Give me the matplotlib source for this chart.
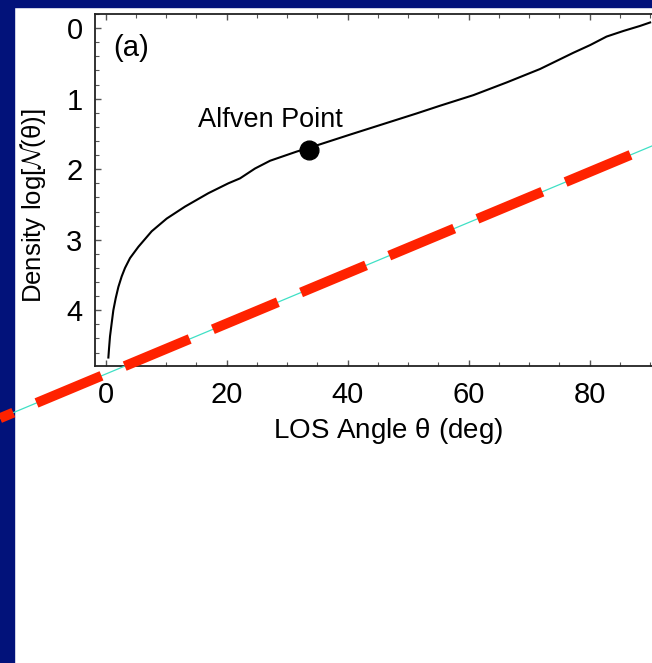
import numpy as np
import matplotlib
matplotlib.use('Agg')
from matplotlib import pyplot as plt
from matplotlib.patches import Rectangle
from matplotlib.ticker import MultipleLocator

plt.rcParams['font.family'] = ['Liberation Sans', 'DejaVu Sans']
plt.rcParams['mathtext.fontset'] = 'cm'
plt.rcParams['lines.scale_dashes'] = False

# density curve
theta = [0.47, 0.58, 0.74, 1.02, 1.29, 1.68, 2.12, 2.67, 3.22, 4.05, 5.43, 7.63,
         10.11, 13.14, 17.0, 20.3, 22.23, 24.71, 27.2, 31.6, 35.0, 40.4, 45.9,
         51.4, 55.29, 60.8, 66.3, 71.8, 77.3, 80.1, 82.8, 85.6, 88.3, 90.0]
dens = [4.67, 4.54, 4.37, 4.18, 4.00, 3.83, 3.67, 3.52, 3.40, 3.26, 3.10, 2.88,
        2.70, 2.53, 2.34, 2.20, 2.13, 1.99, 1.88, 1.75, 1.66, 1.51, 1.36,
        1.21, 1.10, 0.95, 0.77, 0.58, 0.35, 0.24, 0.12, 0.04, -0.03, -0.08]

# Alfven point
alf_theta = [33.6]
alf_dens = [1.73]

# straight reference line (runs outside the frame)
ref_theta = [-17.44, 92.0]
ref_dens = [5.53, 1.61]

xticks = [0, 20, 40, 60, 80]
yticks = [0, 1, 2, 3, 4]

fig = plt.figure(figsize=(6.52, 6.63), dpi=100)
fig.patch.set_facecolor('white')

# navy slide frame
navy = '#02127a'
fig.patches.append(Rectangle((0, 0), 14/652., 1, transform=fig.transFigure,
                             color=navy, zorder=-1))
fig.patches.append(Rectangle((0, 1 - 7/663.), 1, 7/663., transform=fig.transFigure,
                             color=navy, zorder=-1))

ax = fig.add_axes([95/652., 297/663., 563/652., 352/663.])
ax.set_facecolor('none')

ax.plot(theta, dens, color='black', lw=1.5)
ax.plot(alf_theta, alf_dens, 'o', color='black', ms=13.5)
ax.text(15.3, 1.40, 'Alfven Point', fontsize=19.5, ha='left', va='baseline')
ax.text(1.2, 0.39, '(a)', fontsize=21, ha='left', va='baseline')

ax.plot(ref_theta, ref_dens, color='#3fe0c5', lw=0.9, clip_on=False, zorder=5)
ax.plot(ref_theta, ref_dens, color='#ff2200', lw=7.2,
        linestyle=(40.3, (50.7, 18.1)),
        solid_capstyle='butt', dash_capstyle='butt', clip_on=False, zorder=6)

ax.set_xlim(-1.74, 91.3)
ax.set_ylim(4.79, -0.2)
ax.set_xticks(xticks)
ax.set_yticks(yticks)
ax.xaxis.set_minor_locator(MultipleLocator(5))
ax.yaxis.set_minor_locator(MultipleLocator(0.2))
ax.tick_params(which='both', direction='in', top=True, right=False,
               labelsize=21, color='#555555')
ax.tick_params(which='major', length=4.5, width=1)
ax.tick_params(which='minor', length=3, width=0.8)
ax.tick_params(axis='x', pad=11)
ax.tick_params(axis='y', pad=9)
for s in ax.spines.values():
    s.set_linewidth(1.3)
    s.set_color('#222222')

ax.set_xlabel(r'LOS Angle $\mathregular{\theta}$ (deg)', fontsize=20, va='center')
ax.xaxis.set_label_coords(0.52, -0.185)
ax.set_ylabel(r'Density log[$\mathcal{N}$($\mathregular{\theta}$)]', fontsize=18.5,
              va='center')
ax.yaxis.set_label_coords(-0.11, 0.455)

plt.savefig('out.png', dpi=100)
